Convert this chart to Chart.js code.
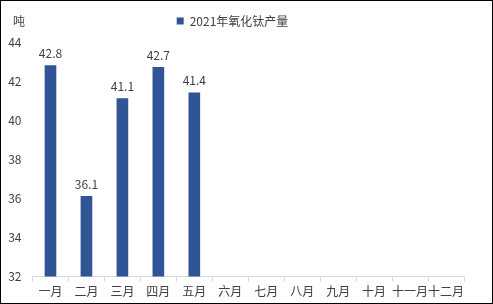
<!DOCTYPE html>
<html>
<head>
<meta charset="utf-8">
<script src="https://cdn.jsdelivr.net/npm/chart.js@4"></script>
<style>
  body { margin: 0; background: #fff; }
  #box { width: 493px; height: 304px; box-sizing: border-box; border: 1px solid #000; }
  canvas { display: block; }
</style>
</head>
<body>
<div id="box"><canvas id="myChart" width="491" height="302"></canvas></div>
<script>
let months = ["一月", "二月", "三月", "四月", "五月", "六月", "七月", "八月", "九月", "十月", "十一月", "十二月"];
let output = [42.8, 36.1, 41.1, 42.7, 41.4, null, null, null, null, null, null, null];
let seriesName = "2021年氧化钛产量";
let unit = "吨";

const fontFamily = "'Noto Sans CJK SC', 'Microsoft YaHei', sans-serif";

// value labels above bars + unit text
let labelPlugin = {
    id: "labels",
    afterInit(chart) {
        // a bit more room under the legend
        let leg = chart.legend;
        let fit = leg.fit;
        leg.fit = function () {
            fit.call(this);
            this.height += 5;
        };
    },
    afterDatasetsDraw(chart) {
        let ctx = chart.ctx;
        ctx.save();
        ctx.font = "12px " + fontFamily;
        ctx.fillStyle = "#404040";
        ctx.textAlign = "center";
        ctx.textBaseline = "bottom";
        chart.getDatasetMeta(0).data.forEach((bar, i) => {
            if (output[i] == null) return;
            ctx.fillText(output[i].toFixed(1), bar.x, bar.y - 6);
        });
        ctx.textAlign = "left";
        ctx.textBaseline = "middle";
        ctx.fillText(unit, 12, 20);
        ctx.restore();
    }
};

let config = {
    type: "bar",
    data: {
        labels: months,
        datasets: [
            {
                label: seriesName,
                data: output,
                backgroundColor: "#2F5597",
                barThickness: 11
            }
        ]
    },
    options: {
        responsive: false,
        animation: false,
        layout: {
            padding: { left: 0, right: 28, top: 4, bottom: 1 }
        },
        plugins: {
            legend: {
                position: "top",
                labels: {
                    boxWidth: 7,
                    boxHeight: 7,
                    padding: 10,
                    color: "#404040",
                    font: { size: 12, family: fontFamily }
                }
            },
            tooltip: { enabled: false }
        },
        scales: {
            x: {
                grid: {
                    drawOnChartArea: false,
                    drawTicks: true,
                    tickLength: 5,
                    color: "#d9d9d9",
                    offset: true
                },
                border: { color: "#d9d9d9" },
                ticks: {
                    color: "#404040",
                    maxRotation: 0,
                    autoSkip: false,
                    padding: 3,
                    font: { size: 12, family: fontFamily }
                }
            },
            y: {
                min: 32,
                max: 44,
                grid: { display: false },
                border: { display: false },
                ticks: {
                    stepSize: 2,
                    color: "#404040",
                    padding: 3,
                    font: { size: 12, family: fontFamily }
                },
                afterFit(scale) {
                    scale.width = 31.5;
                }
            }
        }
    },
    plugins: [labelPlugin]
};

let ctx = document.getElementById("myChart").getContext("2d");
let myChart = new Chart(ctx, config);
</script>
</body>
</html>
